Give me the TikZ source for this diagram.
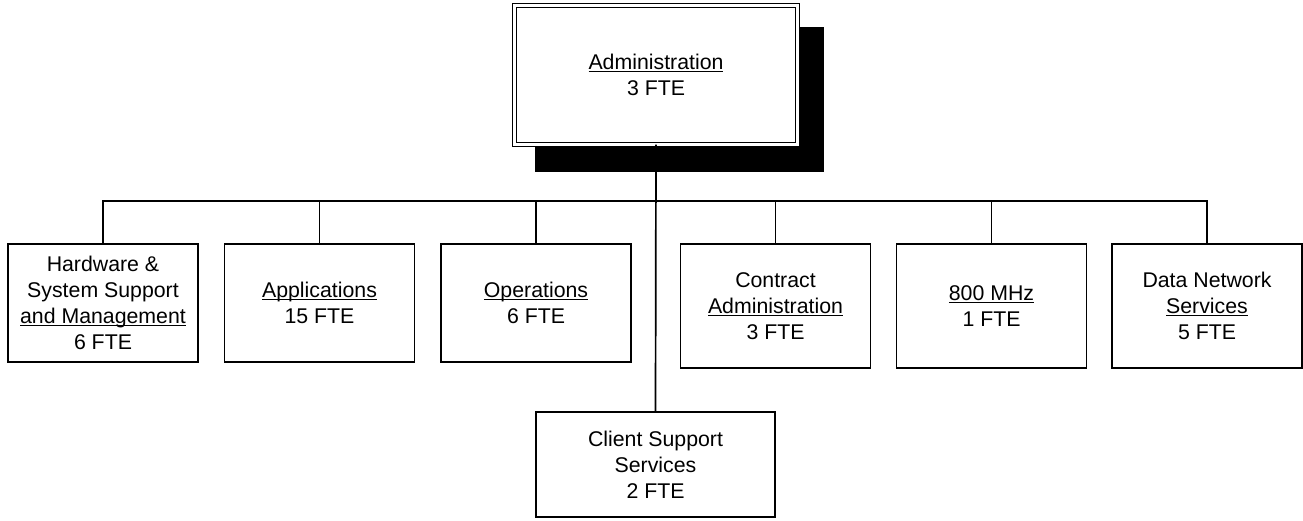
\documentclass[tikz,border=0pt]{standalone}
\usepackage{fontspec}
\setmainfont{Liberation Sans}
\usetikzlibrary{backgrounds}
\newcommand{\undl}[1]{\underline{\smash{#1}}\vphantom{#1}}

\begin{document}
\begin{tikzpicture}[x=1pt, y=-1pt,
		unit/.style={draw, rectangle, line width=1.7pt, fill=white, align=center, inner sep=2pt, minimum width=190pt, font=\fontsize{21.3}{26}\selectfont},
		head/.style={unit, double, double distance=2.2pt, line width=1.4pt, outer sep=0pt, minimum width=283pt, minimum height=139pt},
		low/.style={unit, minimum height=118pt},
		high/.style={unit, minimum height=124pt},
		link/.style={line width=1.7pt}]
			\useasboundingbox (0, 0) rectangle (1303, 520);
			\node[head] (adm)at(656, 75) {\undl{Administration}\\3 FTE};
			\begin{scope}[on background layer]
				\fill ([xshift=20.5pt, yshift=-27.5pt]adm.south west) rectangle ([xshift=26.5pt, yshift=-21.5pt]adm.north east);
			\end{scope}
			\coordinate (bar)at(656, 201);
			\node[low] (hw)at(103, 303) {Hardware \&\\System Support\\\undl{and Management}\\6 FTE};
			\node[low] (app)at(319.5, 303) {\undl{Applications}\\15 FTE};
			\node[low] (ops)at(536, 303) {\undl{Operations}\\6 FTE};
			\node[high] (con)at(775.5, 306) {Contract\\\undl{Administration}\\3 FTE};
			\node[high] (mhz)at(991.5, 306) {\undl{800 MHz}\\1 FTE};
			\node[high] (dns)at(1207, 306) {Data Network\\\undl{Services}\\5 FTE};
			\node[unit, minimum width=239pt, minimum height=105pt] (css)at(655.5, 464.5) {Client Support\\Services\\2 FTE};
			\draw[link] (adm.south) -- (css.north);
			\foreach \b in {hw, app, ops, con, mhz, dns}
				\draw[link] (bar) -| (\b.north);
		\end{tikzpicture}
\end{document}
